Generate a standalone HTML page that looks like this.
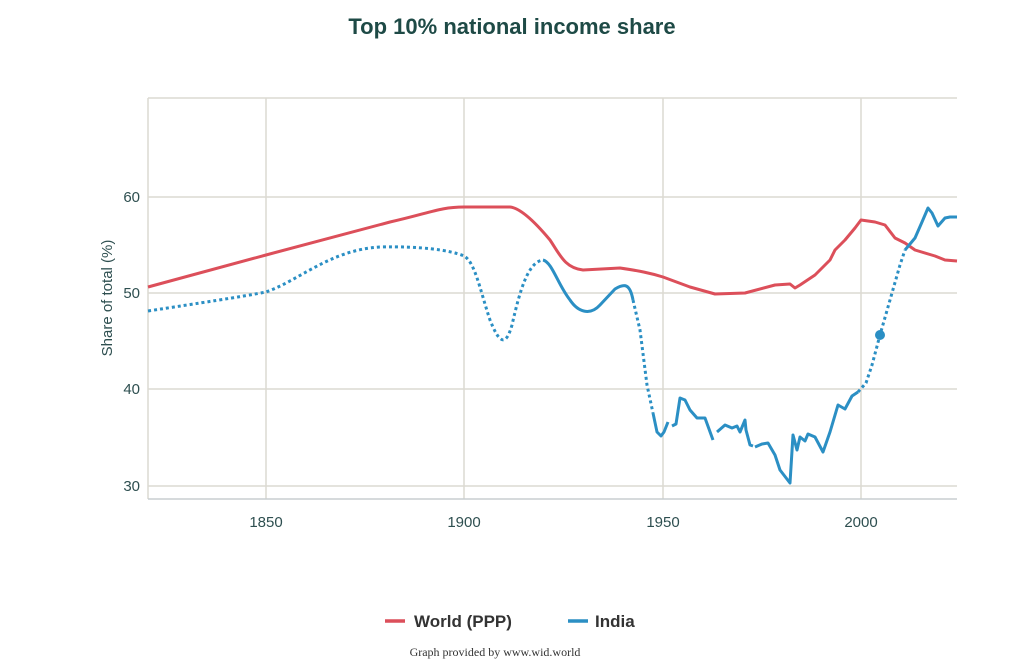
<!DOCTYPE html>
<html><head><style>
body{margin:0;background:#fff;width:1024px;height:664px;overflow:hidden}
svg{display:block}
text{font-family:"Liberation Sans",sans-serif}
</style></head><body>
<svg width="1024" height="664" viewBox="0 0 1024 664">
<text x="512" y="34" text-anchor="middle" font-size="22" font-weight="bold" fill="#1e4a46">Top 10% national income share</text>
<g stroke="#dcdad2" stroke-width="1.5" fill="none">
<line x1="148" y1="98" x2="957" y2="98"/>
<line x1="148" y1="197" x2="957" y2="197"/>
<line x1="148" y1="293" x2="957" y2="293"/>
<line x1="148" y1="389" x2="957" y2="389"/>
<line x1="148" y1="486" x2="957" y2="486"/>
<line x1="148" y1="98" x2="148" y2="499"/>
<line x1="266" y1="98" x2="266" y2="499"/>
<line x1="464" y1="98" x2="464" y2="499"/>
<line x1="663" y1="98" x2="663" y2="499"/>
<line x1="861" y1="98" x2="861" y2="499"/>
</g>
<line x1="148" y1="499" x2="957" y2="499" stroke="#c8cdd0" stroke-width="1.5"/>
<g font-size="15" fill="#2e4f50">
<text x="140" y="202" text-anchor="end">60</text>
<text x="140" y="298" text-anchor="end">50</text>
<text x="140" y="394" text-anchor="end">40</text>
<text x="140" y="491" text-anchor="end">30</text>
<text x="266" y="527" text-anchor="middle">1850</text>
<text x="464" y="527" text-anchor="middle">1900</text>
<text x="663" y="527" text-anchor="middle">1950</text>
<text x="861" y="527" text-anchor="middle">2000</text>
<text transform="translate(112,298) rotate(-90)" text-anchor="middle">Share of total (%)</text>
</g>
<path fill="none" stroke="#dc4f5a" stroke-width="3" stroke-linejoin="round" d="M148,287 L266,255 L390,222 C430,213 440,207 464,207 L510,207 C520,208 535,222 550,240 C560,255 565,268 583,270 L620,268 C640,271 650,273 663,277 L690,287 L715,294 L745,293 L775,285 L790,284 L795,288 L800,285 L815,275 L830,260 L835,250 L845,240 L855,228 L861,220 L875,222 L885,225 L895,238 L905,243 L915,250 L935,256 L945,260 L957,261"/>
<g fill="none" stroke="#2b8fc4" stroke-width="3" stroke-linejoin="round">
<path stroke-dasharray="3,3" d="M148,311 C200,303 240,297 266,292 C300,280 330,250 380,247 C420,246 450,250 464,256 C475,262 480,290 490,320 C498,340 505,350 512,325 C520,290 528,262 543,260"/>
<path d="M543,260 C552,262 558,285 570,300 C578,312 590,316 600,305 L615,289 C625,283 630,284 633,300"/>
<path stroke-dasharray="3,3" d="M633,300 L640,330 L647,385 L653,413"/>
<path d="M653,413 L657,432 L661,436 L664,432 L668,422 M672,426 L676,424 L680,398 L685,400 L690,410 L697,418 L705,418 L713,440 M717,432 L725,425 L732,428 L737,426 L740,432 L745,420 L746,430 L750,445 L753,446 M755,447 L762,444 L768,443 L775,455 L780,470 L790,483 L793,435 L797,450 L800,437 L805,441 L808,434 L815,437 L823,452 L830,432 L838,405 L845,409 L852,396 L858,392"/>
<path stroke-dasharray="3,3" d="M858,392 L866,383 L872,365 L880,335 L890,300 L900,265 L905,250"/>
<path d="M905,250 L915,238 L922,222 L928,208 L932,213 L938,226 L945,218 L950,217 L957,217"/>
</g>
<circle cx="880" cy="335" r="5" fill="#2b8fc4"/>
<line x1="385" y1="621" x2="405" y2="621" stroke="#dc4f5a" stroke-width="3.5"/>
<text x="414" y="627" font-size="17" font-weight="bold" fill="#333">World (PPP)</text>
<line x1="568" y1="621" x2="588" y2="621" stroke="#2b8fc4" stroke-width="3.5"/>
<text x="595" y="627" font-size="17" font-weight="bold" fill="#333">India</text>
<text x="495" y="656" text-anchor="middle" font-size="12" fill="#333" style="font-family:'Liberation Serif',serif">Graph provided by www.wid.world</text>
</svg>
</body></html>
